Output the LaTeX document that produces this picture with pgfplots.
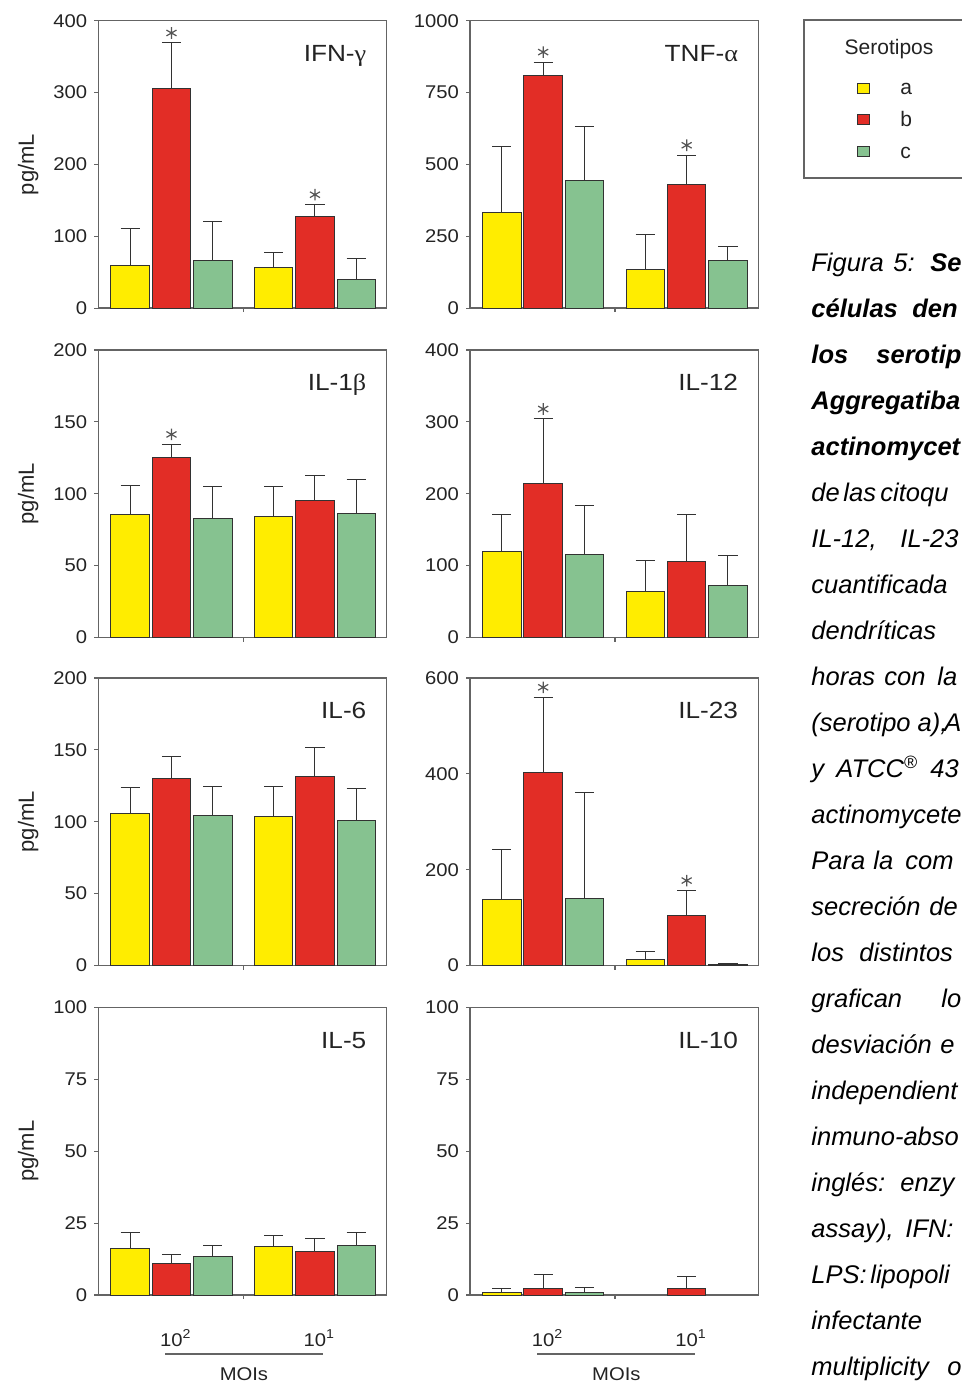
\documentclass[border=0pt]{standalone}
\usepackage{fontspec}
\setmainfont{Liberation Sans}
\newfontfamily\chartfam{Liberation Sans}[FakeStretch=1.1]
\newfontfamily\labfam{Liberation Sans}[FakeStretch=1.12]
\newfontfamily\grk{Liberation Serif}[FakeStretch=1.12]
\usepackage{pgfplots}
\pgfplotsset{compat=1.18}
\definecolor{cA}{RGB}{255,237,0}
\definecolor{cB}{RGB}{226,45,38}
\definecolor{cC}{RGB}{134,194,144}
\definecolor{edge}{RGB}{50,50,50}
\definecolor{axisgray}{RGB}{100,100,100}
\definecolor{txt}{RGB}{35,35,35}
\definecolor{stargray}{RGB}{85,85,85}
\newcommand\tickfont{\chartfam\fontsize{9.2}{11}\selectfont}
\newcommand\labfont{\labfam\fontsize{11.7}{14}\selectfont}
\newcommand\ylabfont{\fontsize{11}{13}\selectfont}
\newcommand\legfont{\fontsize{10.5}{12}\selectfont}
\newcommand\capfont{\itshape\fontsize{12.75}{15}\selectfont}
\newcommand\cl[3]{\node[anchor=base west, inner sep=0pt, font=\capfont] at ({#1pt},{-136pt-#2*22.98pt}) {#3};}
\tikzset{plab/.style={anchor=base east, xshift=-10pt, yshift=-20.25pt, font=\labfont, text=txt, inner sep=0pt}}
\pgfplotsset{
  panel/.style={scale only axis, width=144.2pt, height=143.75pt, anchor=north west,
    xmin=-0.51, xmax=1.5, ymin=0, xtick={0.5}, xticklabels={},
    tick align=outside, xtick pos=bottom, ytick pos=left, major tick length=2pt,
    axis line style={draw=axisgray, line width=0.7pt},
    tick style={draw=axisgray, line width=0.6pt},
    ticklabel style={font=\tickfont, text=txt},
    clip=false,
    /pgf/number format/assume math mode=true, /pgf/number format/1000 sep={}},
  leftcol/.style={ylabel={pg/mL}, ylabel style={font=\ylabfont, text=txt, at={(axis description cs:-0.243,0.5)}, anchor=center}},
  barbase/.style={ybar, bar shift=0pt, bar width=0.268, draw=edge, line width=0.5pt,
    error bars/.cd, y dir=plus, y explicit,
    error bar style={draw=edge, line width=0.5pt},
    error mark options={rotate=90, draw=edge, mark size=4.8pt, line width=0.5pt}},
  barA/.style={fill=cA, barbase},
  barB/.style={fill=cB, barbase},
  barC/.style={fill=cC, barbase},
  star/.style={only marks, mark=asterisk, mark size=2.9pt, draw=stargray, color=stargray, mark options={yshift=5pt, line width=0.6pt}},
}
\begin{document}
\begin{tikzpicture}
% Row 1 left: IFN-gamma
\begin{axis}[panel, leftcol, at={(49.15pt,-10.35pt)}, ymax=400, ytick={0,100,...,400}]
\addplot[barA] coordinates {(-0.288,59.3) +- (0,51) (0.712,56.5) +- (0,20.5)};
\addplot[barB] coordinates {(0,305) +- (0,64) (1,127) +- (0,17)};
\addplot[barC] coordinates {(0.288,66.7) +- (0,54.3) (1.288,39.9) +- (0,29.1)};
\addplot[star] coordinates {(0,369) (1,144)};
\node[plab] at (rel axis cs:1,1) {IFN-{\grk γ}};
\end{axis}
% Row 1 right: TNF-alpha
\begin{axis}[panel, at={(235pt,-10.35pt)}, ymax=1000, ytick={0,250,...,1000}]
\addplot[barA] coordinates {(-0.288,333.7) +- (0,228.3) (0.712,135.6) +- (0,122.4)};
\addplot[barB] coordinates {(0,808.8) +- (0,47.2) (1,431) +- (0,101)};
\addplot[barC] coordinates {(0.288,443.8) +- (0,187.7) (1.288,166.9) +- (0,47.1)};
\addplot[star] coordinates {(0,856) (1,532)};
\node[plab] at (rel axis cs:1,1) {TNF-{\grk α}};
\end{axis}
% Row 2 left: IL-1beta
\begin{axis}[panel, leftcol, at={(49.15pt,-175pt)}, ymax=200, ytick={0,50,...,200}]
\addplot[barA] coordinates {(-0.288,85.8) +- (0,20) (0.712,84) +- (0,20.9)};
\addplot[barB] coordinates {(0,125.5) +- (0,8.8) (1,95.6) +- (0,17.4)};
\addplot[barC] coordinates {(0.288,83.1) +- (0,22.2) (1.288,86.5) +- (0,23.7)};
\addplot[star] coordinates {(0,134.3)};
\node[plab] at (rel axis cs:1,1) {IL-1{\grk β}};
\end{axis}
% Row 2 right: IL-12
\begin{axis}[panel, at={(235pt,-175pt)}, ymax=400, ytick={0,100,...,400}]
\addplot[barA] coordinates {(-0.288,119.3) +- (0,52.4) (0.712,64.5) +- (0,43.2)};
\addplot[barB] coordinates {(0,214.4) +- (0,89.6) (1,106.3) +- (0,65.4)};
\addplot[barC] coordinates {(0.288,116) +- (0,68.2) (1.288,72.9) +- (0,41.3)};
\addplot[star] coordinates {(0,304)};
\node[plab] at (rel axis cs:1,1) {IL-12};
\end{axis}
% Row 3 left: IL-6
\begin{axis}[panel, leftcol, at={(49.15pt,-339pt)}, ymax=200, ytick={0,50,...,200}]
\addplot[barA] coordinates {(-0.288,105.4) +- (0,18.1) (0.712,103.4) +- (0,20.8)};
\addplot[barB] coordinates {(0,129.8) +- (0,15.7) (1,131.6) +- (0,20.2)};
\addplot[barC] coordinates {(0.288,104.1) +- (0,20.6) (1.288,101) +- (0,21.8)};
\node[plab] at (rel axis cs:1,1) {IL-6};
\end{axis}
% Row 3 right: IL-23
\begin{axis}[panel, at={(235pt,-339pt)}, ymax=600, ytick={0,200,...,600}]
\addplot[barA] coordinates {(-0.288,137) +- (0,105.6) (0.712,11.8) +- (0,17.4)};
\addplot[barB] coordinates {(0,403.2) +- (0,156.5) (1,103.6) +- (0,52.8)};
\addplot[barC] coordinates {(0.288,140.4) +- (0,221.1) (1.288,2) +- (0,1.5)};
\addplot[star] coordinates {(0,559.7) (1,156.4)};
\node[plab] at (rel axis cs:1,1) {IL-23};
\end{axis}
% Row 4 left: IL-5
\begin{axis}[panel, leftcol, at={(49.15pt,-503.75pt)}, ymax=100, ytick={0,25,...,100}]
\addplot[barA] coordinates {(-0.288,16.2) +- (0,5.5) (0.712,16.8) +- (0,4)};
\addplot[barB] coordinates {(0,11) +- (0,3.2) (1,15.2) +- (0,4.5)};
\addplot[barC] coordinates {(0.288,13.5) +- (0,3.8) (1.288,17.3) +- (0,4.4)};
\node[plab] at (rel axis cs:1,1) {IL-5};
\node[anchor=base, font=\tickfont, text=txt] at ([yshift=-25.5pt]axis cs:0,0) {10\rlap{\textsuperscript{2}}};
\node[anchor=base, font=\tickfont, text=txt] at ([yshift=-25.5pt]axis cs:1,0) {10\rlap{\textsuperscript{1}}};
\draw[axisgray, line width=0.6pt] ([yshift=-29.5pt]axis cs:-0.045,0) -- ([yshift=-29.5pt]axis cs:1.056,0);
\node[anchor=base, font=\tickfont, text=txt] at ([yshift=-42.5pt]axis cs:0.505,0) {MOIs};
\end{axis}
% Row 4 right: IL-10
\begin{axis}[panel, at={(235pt,-503.75pt)}, ymax=100, ytick={0,25,...,100}]
\addplot[barA] coordinates {(-0.288,0.8) +- (0,1.5)};
\addplot[barB] coordinates {(0,2.3) +- (0,4.7) (1,2.3) +- (0,4.3)};
\addplot[barC] coordinates {(0.288,1) +- (0,1.7)};
\node[plab] at (rel axis cs:1,1) {IL-10};
\node[anchor=base, font=\tickfont, text=txt] at ([yshift=-25.5pt]axis cs:0,0) {10\rlap{\textsuperscript{2}}};
\node[anchor=base, font=\tickfont, text=txt] at ([yshift=-25.5pt]axis cs:1,0) {10\rlap{\textsuperscript{1}}};
\draw[axisgray, line width=0.6pt] ([yshift=-29.5pt]axis cs:-0.04,0) -- ([yshift=-29.5pt]axis cs:1.06,0);
\node[anchor=base, font=\tickfont, text=txt] at ([yshift=-42.5pt]axis cs:0.51,0) {MOIs};
\end{axis}
% Legend box
\draw[axisgray, line width=0.6pt] (402pt,-10pt) rectangle (500pt,-89pt);
\node[font=\legfont, text=txt, anchor=base, inner sep=0pt] at (444.5pt,-27.5pt) {Serotipos};
\filldraw[fill=cA, draw=edge, line width=0.5pt] (428.65pt,-41.7pt) rectangle (434.95pt,-47pt);
\filldraw[fill=cB, draw=edge, line width=0.5pt] (428.65pt,-57.2pt) rectangle (434.95pt,-62.5pt);
\filldraw[fill=cC, draw=edge, line width=0.5pt] (428.65pt,-73.2pt) rectangle (434.95pt,-78.5pt);
\node[font=\legfont, text=txt, anchor=base west, inner sep=0pt] at (450pt,-47.5pt) {a};
\node[font=\legfont, text=txt, anchor=base west, inner sep=0pt] at (450pt,-63.35pt) {b};
\node[font=\legfont, text=txt, anchor=base west, inner sep=0pt] at (450pt,-79.15pt) {c};
% Caption (as much of each line as the reference shows)
\cl{405.5}{0}{Figura}\cl{446.5}{0}{5:}\cl{465}{0}{\bfseries Se}
\cl{405.5}{1}{\bfseries células}\cl{456}{1}{\bfseries den}
\cl{405.5}{2}{\bfseries los}\cl{438}{2}{\bfseries serotip}
\cl{405.5}{3}{\bfseries Aggregatiba}
\cl{405.5}{4}{\bfseries actinomycet}
\cl{405.5}{5}{de}\cl{421.5}{5}{las}\cl{440}{5}{citoqu}
\cl{405.5}{6}{IL-12,}\cl{450}{6}{IL-23}
\cl{405.5}{7}{cuantificada}
\cl{405.5}{8}{dendríticas}
\cl{405.5}{9}{horas}\cl{442}{9}{con}\cl{468.5}{9}{la}
\cl{405.5}{10}{(serotipo a),}\cl{472}{10}{A}
\cl{405.5}{11}{y}\cl{418}{11}{ATCC\textsuperscript{®}}\cl{465}{11}{43}
\cl{405.5}{12}{actinomycete}
\cl{405.5}{13}{Para}\cl{436.5}{13}{la}\cl{452.5}{13}{com}
\cl{405.5}{14}{secreción}\cl{464.5}{14}{de}
\cl{405.5}{15}{los}\cl{429.5}{15}{distintos}
\cl{405.5}{16}{grafican}\cl{470.5}{16}{lo}
\cl{405.5}{17}{desviación}\cl{470}{17}{e}
\cl{405.5}{18}{independient}
\cl{405.5}{19}{inmuno-abso}
\cl{405.5}{20}{inglés:}\cl{450}{20}{enzy}
\cl{405.5}{21}{assay),}\cl{452.5}{21}{IFN:}
\cl{405.5}{22}{LPS:}\cl{435}{22}{lipopoli}
\cl{405.5}{23}{infectante}
\cl{405.5}{24}{multiplicity}\cl{473.5}{24}{o}
\pgfresetboundingbox
\path[use as bounding box] (0pt,0pt) rectangle (481pt,-692.5pt);
\end{tikzpicture}
\end{document}
